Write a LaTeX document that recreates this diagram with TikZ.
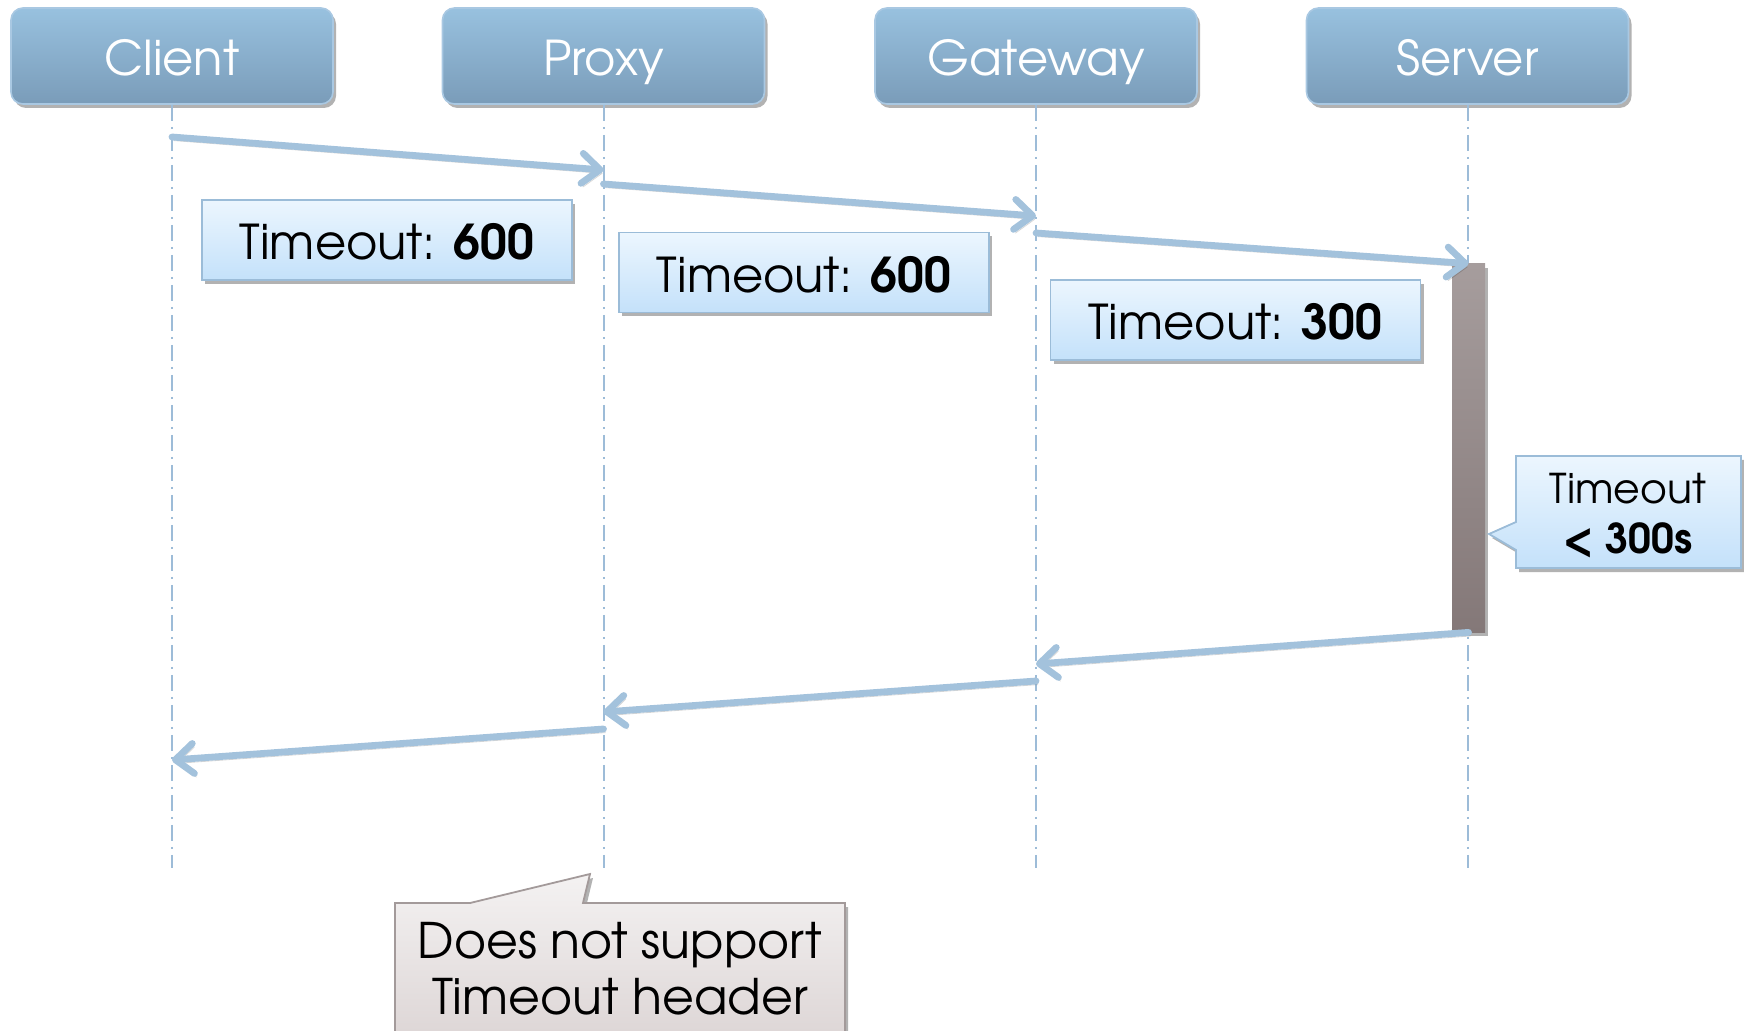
\documentclass[tikz,border=0pt]{standalone}
\usepackage{fontspec}
\setmainfont{TeX Gyre Adventor}
\usetikzlibrary{arrows.meta,shadows}

\definecolor{hdrtop}{HTML}{98C1DF}
\definecolor{hdrbot}{HTML}{7A9CB9}
\definecolor{hdredge}{HTML}{A9C8E2}
\definecolor{boxtop}{HTML}{ECF6FE}
\definecolor{boxbot}{HTML}{C4E1FA}
\definecolor{boxedge}{HTML}{9BBCD8}
\definecolor{lifeblue}{HTML}{9DBCD8}
\definecolor{msgblue}{HTML}{A3C2DC}
\definecolor{acttop}{HTML}{A69D9D}
\definecolor{actbot}{HTML}{847878}
\definecolor{notetop}{HTML}{F4F2F2}
\definecolor{notebot}{HTML}{DAD2D2}
\definecolor{noteedge}{HTML}{A39A9A}

\begin{document}
\begin{tikzpicture}[x=0.5pt,y=-0.5pt,
  softshadow/.style={drop shadow={shadow xshift=1.5pt,shadow yshift=-2pt,opacity=0.3,fill=black}},
  hdr/.style={rounded corners=6pt,minimum width=161pt,minimum height=48pt,inner sep=0pt,
    text height=20pt,text depth=0pt,
    top color=hdrtop,bottom color=hdrbot,draw=hdredge,line width=0.8pt,
    text=white,font=\fontsize{24}{28}\selectfont,softshadow},
  tbox/.style={minimum width=185pt,minimum height=40pt,inner sep=0pt,
    text height=20pt,text depth=0pt,
    top color=boxtop,bottom color=boxbot,draw=boxedge,line width=0.9pt,
    font=\fontsize{24}{28}\selectfont,softshadow},
  life/.style={draw=lifeblue,line width=1pt,dash pattern=on 8pt off 3pt on 1pt off 3pt},
  msg/.style={draw=msgblue,line width=3.4pt,line cap=round,
    -{Straight Barb[length=9pt,width=15pt,line cap=round,line join=round]},
    preaction={draw=black,opacity=0.16,transform canvas={xshift=1pt,yshift=-1.8pt}}},
  actbar/.style={minimum width=16.5pt,minimum height=184pt,inner sep=0pt,
    top color=acttop,bottom color=actbot,softshadow},
  calltext/.style={align=center,inner sep=0pt}
]
\useasboundingbox (0,0) rectangle (1744,1031);

% participants
\node[hdr] (client)  at (172,56)    {Client};
\node[hdr] (proxy)   at (603.5,56)  {Proxy};
\node[hdr] (gateway) at (1036,56)   {Gateway};
\node[hdr] (server)  at (1467.5,56) {Server};

% lifelines
\coordinate (bottom) at (0,868);
\foreach \p in {client,proxy,gateway,server}
  \draw[life] (\p.south) -- (\p.south |- bottom);

% timeout values carried by each hop
\node[tbox] (t1) at (387,240)    {Timeout: \textbf{600}};
\node[tbox] (t2) at (804,272.5)  {Timeout: \textbf{600}};
\node[tbox] (t3) at (1235.5,320) {Timeout: \textbf{300}};

% server activation
\node[actbar] (act) at (1468.5,448) {};

% explanatory callouts
\path[top color=boxtop,bottom color=boxbot,draw=boxedge,line width=0.9pt,softshadow]
  (1516,456) -- (1741,456) -- (1741,568) -- (1516,568) -- (1516,550)
  -- (1489,534) -- (1516,522) -- cycle;
\node[calltext,font=\fontsize{20.5}{25}\selectfont,anchor=base] (limit) at (1628,553)
  {Timeout\\\textbf{< 300s}};

\path[top color=notetop,bottom color=notebot,draw=noteedge,line width=0.9pt,softshadow]
  (395,903) -- (470,903) -- (590,874) -- (583,903) -- (845,903) -- (845,1060)
  -- (395,1060) -- cycle;
\node[calltext,font=\fontsize{24.5}{28}\selectfont,anchor=base] (note) at (620,1014)
  {Does not support\\Timeout header};

% request path
\coordinate (r1a) at (client.south |- 0,137);
\coordinate (r1b) at (proxy.south |- 0,170);
\coordinate (r2a) at (proxy.south |- 0,184);
\coordinate (r2b) at (gateway.south |- 0,216);
\coordinate (r3a) at (gateway.south |- 0,233);
\coordinate (r3b) at (act.north);
\draw[msg] (r1a) -- (r1b);
\draw[msg] (r2a) -- (r2b);
\draw[msg] (r3a) -- (r3b);

% response path
\coordinate (s1a) at (act.south);
\coordinate (s1b) at (gateway.south |- 0,664);
\coordinate (s2a) at (gateway.south |- 0,681);
\coordinate (s2b) at (proxy.south |- 0,712);
\coordinate (s3a) at (proxy.south |- 0,729);
\coordinate (s3b) at (client.south |- 0,760);
\draw[msg] (s1a) -- (s1b);
\draw[msg] (s2a) -- (s2b);
\draw[msg] (s3a) -- (s3b);
\end{tikzpicture}
\end{document}
